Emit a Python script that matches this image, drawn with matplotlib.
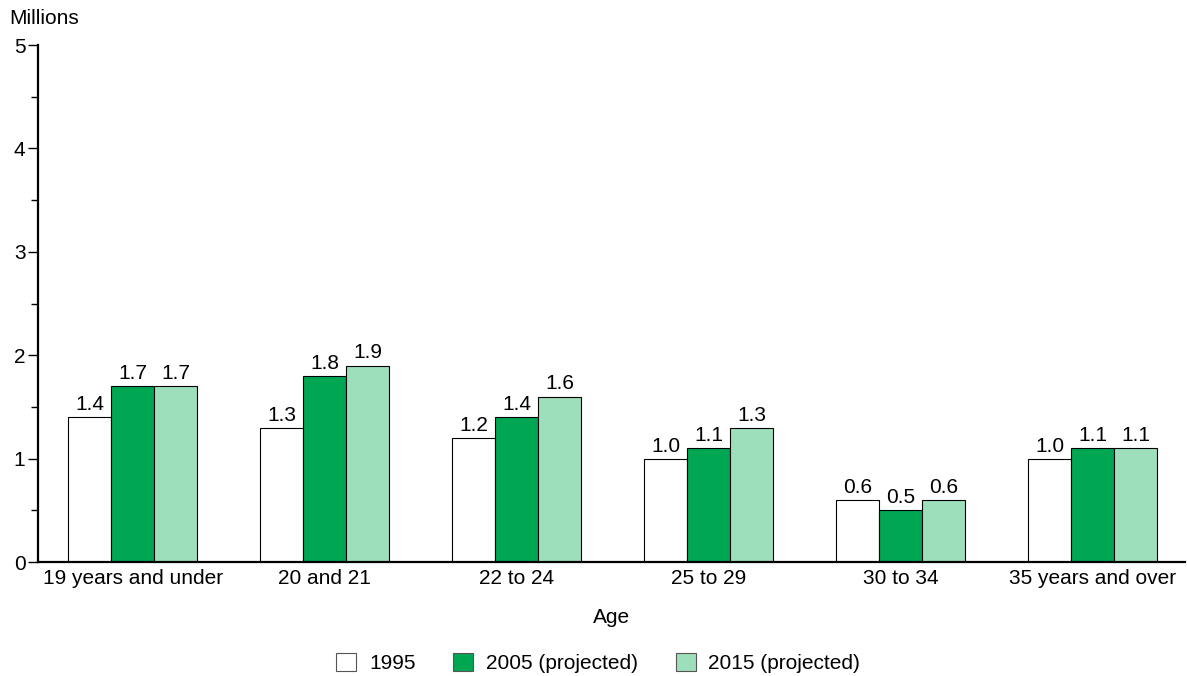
import numpy as np
import matplotlib.pyplot as plt
from matplotlib.patches import Patch

plt.rcParams['font.family'] = ['Liberation Sans', 'DejaVu Sans']

ages = ["19 years and under", "20 and 21", "22 to 24", "25 to 29", "30 to 34", "35 years and over"]
v1995 = [1.4, 1.3, 1.2, 1.0, 0.6, 1.0]
v2005 = [1.7, 1.8, 1.4, 1.1, 0.5, 1.1]
v2015 = [1.7, 1.9, 1.6, 1.3, 0.6, 1.1]
series_names = ["1995", "2005 (projected)", "2015 (projected)"]
colors = ["white", "#00a651", "#9ddfbb"]

fs = 15
fig = plt.figure(figsize=(11.87, 6.76), dpi=100)
ax = fig.add_axes([0.032, 0.1686, 0.966, 0.7648])

x = np.arange(len(ages))
w = 0.224
for k, (vals, c) in enumerate(zip([v1995, v2005, v2015], colors)):
    xs = x + (k - 1) * w
    ax.bar(xs, vals, w, color=c, edgecolor="black", linewidth=0.8)
    for xi, v in zip(xs, vals):
        ax.text(xi, v + 0.03, f"{v:.1f}", ha="center", va="bottom", fontsize=fs)

ax.set_xlim(-0.495, 5.48)
ax.set_ylim(0, 5)
ax.set_yticks(range(6))
ax.set_yticks(np.arange(0.5, 5, 1), minor=True)
ax.set_xticks(x)
ax.set_xticklabels(ages, fontsize=fs)
ax.tick_params(axis="x", length=0, pad=5)
ax.tick_params(axis="y", which="major", length=7, width=1, labelsize=fs, pad=2)
ax.tick_params(axis="y", which="minor", length=5, width=1)
for s in ["top", "right"]:
    ax.spines[s].set_visible(False)
ax.spines["left"].set_linewidth(1.6)
ax.spines["bottom"].set_linewidth(1.6)

fig.text(0.008, 0.958, "Millions", fontsize=fs, va="bottom", ha="left")
fig.text(0.515, 0.087, "Age", fontsize=fs, ha="center", va="center")

handles = [Patch(facecolor=c, edgecolor="#555555", linewidth=0.8) for c in colors]
fig.legend(handles, series_names, loc="center", bbox_to_anchor=(0.504, 0.019),
           ncol=3, frameon=False, fontsize=fs, handlelength=0.96, handleheight=0.96,
           columnspacing=1.8, handletextpad=0.62)

fig.savefig("out.png", dpi=100)
